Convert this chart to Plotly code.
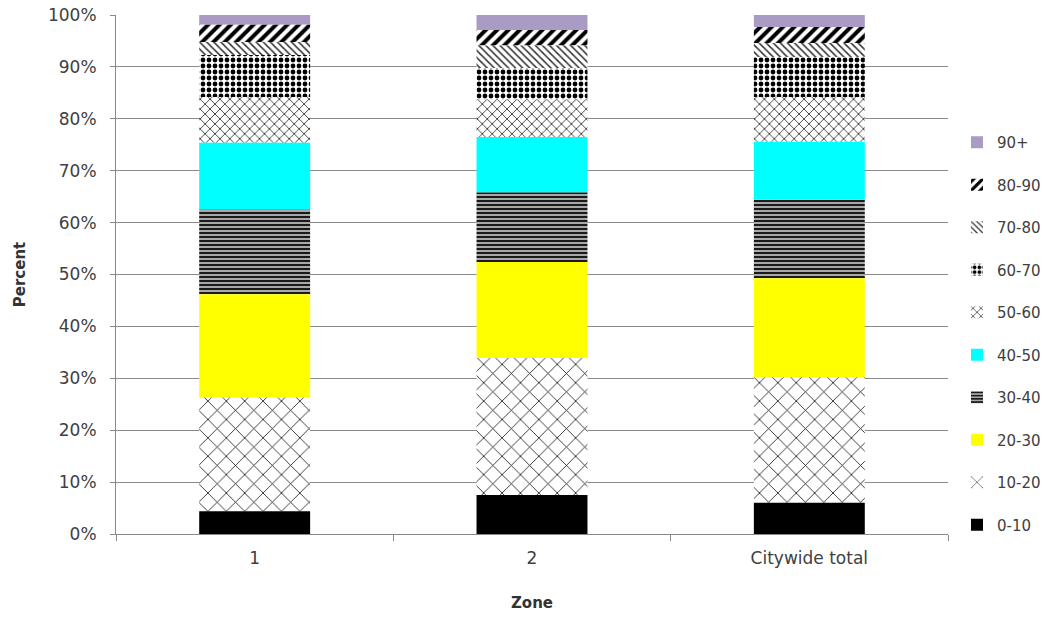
import plotly.graph_objects as go

zones = ["1", "2", "Citywide total"]
age_groups = ["0-10", "10-20", "20-30", "30-40", "40-50", "50-60", "60-70", "70-80", "80-90", "90+"]

# percent of each zone in each age group
v_0_10 = [4.4, 7.5, 6.0]
v_10_20 = [21.9, 26.4, 24.2]
v_20_30 = [19.9, 18.5, 19.1]
v_30_40 = [16.3, 13.4, 15.1]
v_40_50 = [12.9, 10.7, 11.2]
v_50_60 = [8.8, 7.2, 8.6]
v_60_70 = [8.1, 6.1, 7.7]
v_70_80 = [2.5, 4.3, 2.7]
v_80_90 = [3.3, 3.0, 3.1]
v_90p = [1.9, 2.9, 2.3]

series = [v_0_10, v_10_20, v_20_30, v_30_40, v_40_50, v_50_60, v_60_70, v_70_80, v_80_90, v_90p]

styles = [
    dict(color="black", pattern=None),
    dict(color="white", pattern=dict(shape="x", fgcolor="#111111", bgcolor="white", size=13, solidity=0.12)),
    dict(color="#FFFF00", pattern=None),
    dict(color="white", pattern=dict(shape="-", fgcolor="#1a1a1a", bgcolor="#a8a8a8", size=4, solidity=0.5)),
    dict(color="#00FFFF", pattern=None),
    dict(color="white", pattern=dict(shape="x", fgcolor="#222222", bgcolor="white", size=7, solidity=0.22)),
    dict(color="white", pattern=dict(shape=".", fgcolor="black", bgcolor="white", size=6, solidity=0.5)),
    dict(color="white", pattern=dict(shape="\\", fgcolor="#333333", bgcolor="white", size=5, solidity=0.3)),
    dict(color="white", pattern=dict(shape="/", fgcolor="black", bgcolor="white", size=8, solidity=0.5)),
    dict(color="#A99BC4", pattern=None),
]

# cumulative bases so that each age group sits on top of the younger ones
bases = []
running = [0.0] * len(zones)
for vals in series:
    bases.append(list(running))
    running = [r + v for r, v in zip(running, vals)]

fig = go.Figure()
# add oldest first so the legend lists 90+ at the top
for idx in reversed(range(len(age_groups))):
    name, vals, st, base = age_groups[idx], series[idx], styles[idx], bases[idx]
    marker = dict(color=st["color"], line=dict(width=0))
    if st["pattern"] is not None:
        p = dict(st["pattern"])
        p["fgopacity"] = 1
        marker["pattern"] = p
    fig.add_trace(go.Bar(x=zones, y=vals, base=base, name=name, marker=marker, legendgroup=name))

tick_font = dict(family="DejaVu Sans", size=17, color="#404040")

fig.update_layout(
    barmode="overlay",
    bargap=0.6,
    width=1044,
    height=626,
    paper_bgcolor="white",
    plot_bgcolor="white",
    margin=dict(l=116, r=96, t=15, b=92, autoexpand=False),
    font=tick_font,
    legend=dict(
        traceorder="grouped",
        xref="container", yref="container",
        x=957 / 1044, y=1 - 126 / 626, xanchor="left", yanchor="top",
        tracegroupgap=20,
        maxheight=0.95,
        font=dict(family="DejaVu Sans", size=15, color="#404040"),
        itemwidth=30,
        bgcolor="rgba(0,0,0,0)",
    ),
    xaxis=dict(
        showline=True, linecolor="#888888", linewidth=1,
        ticks="outside", tickson="boundaries", ticklen=6, tickcolor="#888888",
        ticklabelstandoff=9, tickfont=tick_font,
        title=dict(text="<b>Zone</b>", font=dict(family="DejaVu Sans", size=15, color="#333333"), standoff=30),
    ),
    yaxis=dict(
        range=[0, 100],
        tickvals=[0, 10, 20, 30, 40, 50, 60, 70, 80, 90, 100],
        ticktext=["0%", "10%", "20%", "30%", "40%", "50%", "60%", "70%", "80%", "90%", "100%"],
        showline=True, linecolor="#888888", linewidth=1,
        ticks="outside", ticklen=5, tickcolor="#888888",
        ticklabelstandoff=10, tickfont=tick_font,
        showgrid=True, gridcolor="#8a8a8a", gridwidth=1,
        zeroline=False,
        title=dict(text="<b>Percent</b>", font=dict(family="DejaVu Sans", size=15, color="#333333"), standoff=18),
    ),
)

fig.write_html("out.html")
